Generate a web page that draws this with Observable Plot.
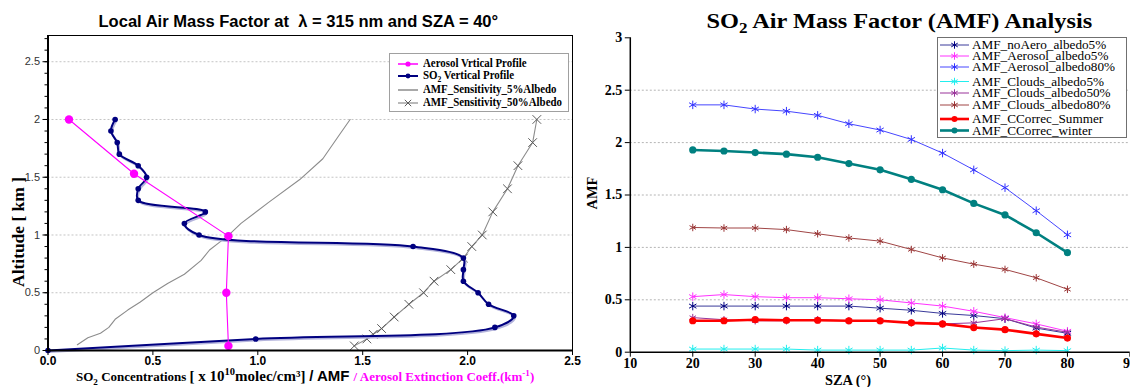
<!DOCTYPE html>
<html><head><meta charset="utf-8">
<script src="https://cdn.jsdelivr.net/npm/d3@7"></script>
<script src="https://cdn.jsdelivr.net/npm/@observablehq/plot@0.6"></script>
<style>
html,body{margin:0;padding:0;background:#fff;}
#root{position:relative;width:1130px;height:387px;overflow:hidden;background:#fff;}
.abs{position:absolute;white-space:nowrap;line-height:1;}
sub,sup{line-height:0;font-size:0.7em;}
</style></head>
<body><div id="root"></div>
<script>
// ================= LEFT PANEL DATA =================
const so2Alt  = [0, 0.1, 0.2, 0.3, 0.4, 0.5, 0.6, 0.7, 0.8, 0.9, 1.0, 1.1, 1.2, 1.3, 1.4, 1.5, 1.6, 1.7, 1.8, 1.9, 2.0];
const so2Conc = [0, 0.99, 2.13, 2.22, 2.10, 2.05, 1.98, 1.98, 1.98, 1.74, 0.72, 0.65, 0.75, 0.43, 0.43, 0.47, 0.43, 0.34, 0.33, 0.30, 0.32];

const aerosolAlt = [0.04, 0.50, 0.99, 1.53, 2.00];
const aerosolExt = [0.86, 0.85, 0.86, 0.41, 0.10];

const amf5Alt = [0.05, 0.11, 0.15, 0.20, 0.27, 0.35, 0.42, 0.50, 0.58, 0.66, 0.78, 0.87, 0.94, 0.98, 1.10, 1.28, 1.48, 1.66, 1.87, 2.00];
const amf5Val = [0.14, 0.19, 0.25, 0.29, 0.32, 0.38, 0.44, 0.50, 0.57, 0.65, 0.73, 0.77, 0.82, 0.85, 0.92, 1.05, 1.20, 1.31, 1.39, 1.44];

const amf50Alt = [0.04, 0.10, 0.14, 0.19, 0.29, 0.40, 0.50, 0.60, 0.70, 0.80, 0.90, 1.00, 1.20, 1.40, 1.60, 1.80, 2.00];
const amf50Val = [1.46, 1.52, 1.55, 1.59, 1.65, 1.72, 1.79, 1.84, 1.92, 1.98, 2.02, 2.07, 2.12, 2.19, 2.24, 2.31, 2.33];

const leftXTicks = [0, 0.5, 1.0, 1.5, 2.0, 2.5];
const leftYTicks = [0, 0.5, 1, 1.5, 2, 2.5];
const leftYMinor = [0,0.1,0.2,0.3,0.4,0.5,0.6,0.7,0.8,0.9,1.0,1.1,1.2,1.3,1.4,1.5,1.6,1.7,1.8,1.9,2.0,2.1,2.2,2.3,2.4,2.5,2.6,2.7];

// ================= RIGHT PANEL DATA =================
const sza = [20, 25, 30, 35, 40, 45, 50, 55, 60, 65, 70, 75, 80];
const amfNoAeroAlb5   = [0.44, 0.44, 0.44, 0.44, 0.44, 0.44, 0.42, 0.40, 0.37, 0.35, 0.32, 0.23, 0.18];
const amfAerosolAlb5  = [0.53, 0.55, 0.53, 0.52, 0.52, 0.51, 0.50, 0.47, 0.44, 0.39, 0.33, 0.27, 0.20];
const amfAerosolAlb80 = [2.36, 2.36, 2.32, 2.30, 2.26, 2.18, 2.12, 2.03, 1.90, 1.74, 1.57, 1.35, 1.12];
const amfCloudsAlb5   = [0.03, 0.03, 0.03, 0.03, 0.02, 0.02, 0.02, 0.02, 0.04, 0.02, 0.015, 0.02, 0.015];
const amfCloudsAlb50  = [0.33, 0.31, 0.30, 0.30, 0.31, 0.30, 0.30, 0.28, 0.27, 0.28, 0.32, 0.24, 0.19];
const amfCloudsAlb80  = [1.19, 1.185, 1.185, 1.17, 1.13, 1.09, 1.06, 0.98, 0.90, 0.84, 0.79, 0.71, 0.60];
const amfCCorrecSummer= [0.30, 0.30, 0.31, 0.305, 0.305, 0.30, 0.30, 0.28, 0.27, 0.235, 0.215, 0.175, 0.135];
const amfCCorrecWinter= [1.93, 1.92, 1.905, 1.89, 1.86, 1.80, 1.74, 1.65, 1.55, 1.42, 1.31, 1.14, 0.95];

const rightXTicks = [10, 20, 30, 40, 50, 60, 70, 80, 90];
const rightYTicks = [0, 0.5, 1, 1.5, 2, 2.5, 3];
const rightGrid   = [0.5, 1, 1.5, 2, 2.5];

const seriesNames = ["AMF_noAero_albedo5%","AMF_Aerosol_albedo5%","AMF_Aerosol_albedo80%","AMF_Clouds_albedo5%","AMF_Clouds_albedo50%","AMF_Clouds_albedo80%","AMF_CCorrec_Summer","AMF_CCorrec_winter"];
const seriesValues = [amfNoAeroAlb5, amfAerosolAlb5, amfAerosolAlb80, amfCloudsAlb5, amfCloudsAlb50, amfCloudsAlb80, amfCCorrecSummer, amfCCorrecWinter];

// ---------- styles (kept apart from data) ----------
const rightStyle = {
  "AMF_noAero_albedo5%":   {stroke:"#3a3a9a", mark:"#000080", w:1,   sym:"asterisk", r:4},
  "AMF_Aerosol_albedo5%":  {stroke:"#ff33ff", mark:"#ff33ff", w:1,   sym:"asterisk", r:4},
  "AMF_Aerosol_albedo80%": {stroke:"#4646ff", mark:"#3333ff", w:1,   sym:"asterisk", r:4},
  "AMF_Clouds_albedo5%":   {stroke:"#22eeee", mark:"#22eeee", w:1,   sym:"asterisk", r:4},
  "AMF_Clouds_albedo50%":  {stroke:"#993399", mark:"#993399", w:1,   sym:"asterisk", r:3.5},
  "AMF_Clouds_albedo80%":  {stroke:"#a04545", mark:"#993333", w:1,   sym:"asterisk", r:3.5},
  "AMF_CCorrec_Summer":    {stroke:"#ff0000", mark:"#ff0000", w:2.6, sym:"circle",   r:3.6},
  "AMF_CCorrec_winter":    {stroke:"#008080", mark:"#008080", w:2.6, sym:"circle",   r:3.6}
};

const root = document.getElementById("root");

// ---------- tables ----------
const so2 = so2Alt.map((a, i) => ({alt: a, v: so2Conc[i]}));
const aer = aerosolAlt.map((a, i) => ({alt: a, v: aerosolExt[i]}));
const s5  = amf5Alt.map((a, i) => ({alt: a, v: amf5Val[i]}));
const s50 = amf50Alt.map((a, i) => ({alt: a, v: amf50Val[i]}));

const leftPlot = Plot.plot({
  width: 580, height: 387,
  marginLeft: 47.5, marginRight: 8, marginTop: 35, marginBottom: 37,
  x: {domain: [0, 2.5]},
  y: {domain: [0, 2.727]},
  style: {fontFamily: "'Liberation Sans', Arial, sans-serif", fontSize: "11px", color: "#000", background: "transparent", overflow: "visible"},
  marks: [
    Plot.ruleY([0.5, 1, 1.5, 2, 2.5], {stroke: "#c4c4c4", strokeDasharray: "2,2"}),
    Plot.frame({stroke: "#000", strokeWidth: 1}),
    Plot.line(s5,  {x: "v", y: "alt", stroke: "#8c8c8c", strokeWidth: 1.1}),
    Plot.line(s50, {x: "v", y: "alt", stroke: "#8c8c8c", strokeWidth: 1.1}),
    Plot.dot(s50,  {x: "v", y: "alt", symbol: "times", r: 4, stroke: "#5a5a5a", strokeWidth: 1}),
    Plot.line(so2, {x: "v", y: "alt", curve: "catmull-rom", stroke: "#b4b4dc", strokeWidth: 2, dx: 1.2, dy: 1.5}),
    Plot.line(so2, {x: "v", y: "alt", curve: "catmull-rom", stroke: "#000080", strokeWidth: 2}),
    Plot.dot(so2,  {x: "v", y: "alt", r: 2.8, fill: "#000080"}),
    Plot.line(aer, {x: "v", y: "alt", stroke: "#ff00ff", strokeWidth: 1.1}),
    Plot.dot(aer,  {x: "v", y: "alt", r: 4.2, fill: "#ff00ff"}),
    Plot.ruleX([0], {stroke: "#000", strokeWidth: 2}),
    Plot.ruleY([0], {stroke: "#000", strokeWidth: 2}),
    Plot.axisX({ticks: leftXTicks, tickFormat: d3.format(".1f"), tickSize: 5, tickPadding: 1, fontWeight: "bold", fontSize: 12, label: null}),
    Plot.axisY({ticks: leftYTicks, tickFormat: d => String(d), tickSize: 5, tickPadding: 3, fill: "#333", fontSize: 11, label: null}),
    Plot.axisY({ticks: leftYMinor, tickFormat: () => "", tickSize: 3, label: null})
  ]
});
leftPlot.style.position = "absolute";
leftPlot.style.left = "0px";
leftPlot.style.top = "0px";
root.appendChild(leftPlot);

const amfRows = [];
seriesNames.forEach((name, k) => seriesValues[k].forEach((v, i) => amfRows.push({series: name, sza: sza[i], amf: v})));

const rightMarks = [
  Plot.ruleY(rightGrid, {stroke: "#b4b4b4", strokeDasharray: "2,2"})
];
seriesNames.forEach(name => {
  const st = rightStyle[name];
  const rows = amfRows.filter(d => d.series === name);
  rightMarks.push(Plot.line(rows, {x: "sza", y: "amf", stroke: st.stroke, strokeWidth: st.w}));
  if (st.sym === "circle") rightMarks.push(Plot.dot(rows, {x: "sza", y: "amf", r: st.r, fill: st.mark}));
  else rightMarks.push(Plot.dot(rows, {x: "sza", y: "amf", symbol: "asterisk", r: st.r, stroke: st.mark, strokeWidth: 1}));
});
rightMarks.push(
  Plot.ruleX([10], {stroke: "#000", strokeWidth: 1.5}),
  Plot.ruleY([0], {stroke: "#000", strokeWidth: 1.5}),
  Plot.axisX({ticks: rightXTicks, tickFormat: d => String(d), tickSize: 5, tickPadding: 1, fontWeight: "bold", fontSize: 14, label: null}),
  Plot.axisY({ticks: rightYTicks, tickFormat: d => String(d), tickSize: 5, tickPadding: 3, fontWeight: "bold", fontSize: 14, label: null})
);

const rightPlot = Plot.plot({
  width: 550, height: 387,
  marginLeft: 49.8, marginRight: 0.6, marginTop: 37.3, marginBottom: 35.3,
  x: {domain: [10, 90]},
  y: {domain: [0, 3]},
  style: {fontFamily: "'Liberation Serif', 'Times New Roman', serif", fontSize: "14px", color: "#000", background: "transparent", overflow: "visible"},
  marks: rightMarks
});
rightPlot.style.position = "absolute";
rightPlot.style.left = "580px";
rightPlot.style.top = "0px";
root.appendChild(rightPlot);

// ---------- text helpers ----------
function place(html, cx, cy, font, targetW, rotate, color) {
  const el = document.createElement("div");
  el.className = "abs";
  el.innerHTML = html;
  if (font) el.style.font = font;
  if (color) el.style.color = color;
  root.appendChild(el);
  const w = el.offsetWidth, h = el.offsetHeight;
  const sx = targetW ? targetW / w : 1;
  el.style.left = (cx - w / 2) + "px";
  el.style.top = (cy - h / 2) + "px";
  el.style.transformOrigin = "50% 50%";
  el.style.transform = (rotate ? `rotate(${rotate}deg) ` : "") + `scaleX(${sx})`;
  return el;
}

// titles
place("Local Air Mass Factor at&nbsp; λ = 315 nm and SZA = 40°", 298, 22, "bold 16px 'Liberation Sans Narrow', 'Liberation Sans', Arial, sans-serif", 400);
place("SO<sub>2</sub> Air Mass Factor (AMF) Analysis", 899, 21, "bold 21px 'Liberation Serif', serif", 386);

// axis labels
place("Altitude [ km ]", 19, 232, "bold 16px 'Liberation Serif', serif", 110, -90);
place(
  "<span style=\"font:bold 13px 'Liberation Serif',serif\">SO<sub>2</sub> Concentrations </span>" +
  "<span style=\"font:bold 15px 'Liberation Serif',serif\">[ x 10<sup>10</sup>molec/cm³] </span>" +
  "<span style=\"font:bold 15px 'Liberation Sans',Arial,sans-serif\"> / AMF </span>" +
  "<span style=\"font:bold 13px 'Liberation Serif',serif;color:#ff00ff\">/ Aerosol Extinction Coeff.(km<sup>-1</sup>)</span>",
  305, 376, null, 458);
place("AMF", 593, 193, "bold 14px 'Liberation Serif', serif", 33, -90);
place("SZA (°)", 848, 380, "bold 15px 'Liberation Serif', serif", 46);

// ---------- legends ----------
function makeLegend(box, rows, cfg) {
  const div = document.createElement("div");
  div.style.cssText = `position:absolute;left:${box.x}px;top:${box.y}px;width:${box.w}px;height:${box.h}px;border:${cfg.border};background:#fff;box-sizing:border-box;`;
  root.appendChild(div);
  const svg = d3.create("svg").attr("width", box.w).attr("height", box.h)
    .style("position", "absolute").style("left", "-1px").style("top", "-1px").style("overflow", "visible");
  const texts = [];
  rows.forEach(r => {
    const y = r.y - box.y;
    svg.append("line").attr("x1", cfg.lx1 - box.x).attr("x2", cfg.lx2 - box.x).attr("y1", y).attr("y2", y)
      .attr("stroke", r.stroke).attr("stroke-width", r.w);
    if (r.sym) {
      const mx = (cfg.lx1 + cfg.lx2) / 2 - box.x;
      const symType = r.sym === "circle" ? d3.symbolCircle : r.sym === "times" ? d3.symbolTimes : d3.symbolAsterisk;
      const p = svg.append("path").attr("d", d3.symbol(symType, Math.PI * r.r * r.r)()).attr("transform", `translate(${mx},${y})`);
      if (r.sym === "circle") p.attr("fill", r.mark);
      else p.attr("fill", "none").attr("stroke", r.mark).attr("stroke-width", 1);
    }
    const t = document.createElement("div");
    t.className = "abs";
    t.innerHTML = r.label;
    t.style.font = cfg.font;
    t.style.lineHeight = "1";
    div.appendChild(t);
    const h = t.offsetHeight;
    t.style.left = (cfg.tx - box.x - 1) + "px";
    t.style.top = (y - h / 2 - 1) + "px";
    texts.push(t);
  });
  // common horizontal scale so the widest label has the reference width
  const maxW = d3.max(texts, t => t.offsetWidth);
  const sx = cfg.fitW / maxW;
  texts.forEach(t => { t.style.transformOrigin = "0 50%"; t.style.transform = `scaleX(${sx})`; });
  div.appendChild(svg.node());
}

makeLegend({x: 389, y: 53, w: 180, h: 59}, [
  {y: 64,  label: "Aerosol Vrtical Profile",   stroke: "#ff00ff", w: 1.5, sym: "circle", r: 2.6, mark: "#ff00ff"},
  {y: 76,  label: "SO<sub>2</sub> Vertical Profile", stroke: "#000080", w: 2, sym: "circle", r: 2.4, mark: "#000080"},
  {y: 90,  label: "AMF_Sensitivity_5%Albedo",  stroke: "#8c8c8c", w: 1.5},
  {y: 103, label: "AMF_Sensitivity_50%Albedo", stroke: "#8c8c8c", w: 1.2, sym: "times", r: 3, mark: "#5a5a5a"}
], {border: "1px solid #a0a0a0", lx1: 398, lx2: 418, tx: 423, font: "bold 11.5px 'Liberation Serif', serif", fitW: 139});

const legendY = [45, 56, 67, 81.5, 93, 105, 119, 130.5];
makeLegend({x: 937, y: 37, w: 190, h: 101},
  seriesNames.map((name, i) => {
    const st = rightStyle[name];
    return {y: legendY[i], label: name, stroke: st.stroke, w: st.w, sym: st.sym, r: st.sym === "circle" ? 3 : 3.5, mark: st.mark};
  }),
  {border: "1.5px solid #707070", lx1: 940, lx2: 969, tx: 972, font: "12px 'Liberation Serif', serif", fitW: 143});
</script>
</body></html>
